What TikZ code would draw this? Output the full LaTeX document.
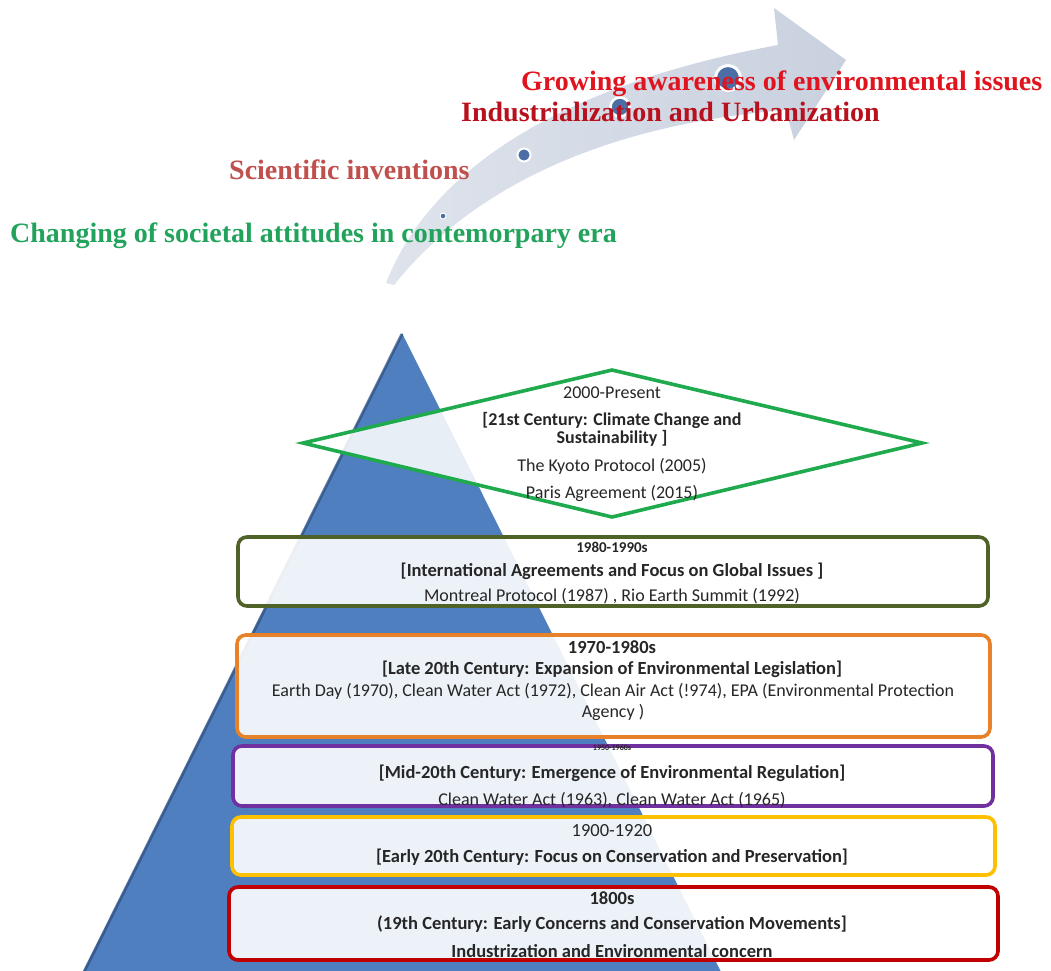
\documentclass[tikz,border=0pt]{standalone}
\usepackage{fontspec}
\newfontfamily\carlito{Carlito}
\newfontfamily\tnr{Liberation Serif}
\definecolor{triblue}{HTML}{4F7FBF}
\definecolor{trishadow}{HTML}{2E4E80}
\definecolor{arrowc}{HTML}{C9D1DF}
\definecolor{dotc}{HTML}{4A6EA5}
\definecolor{olivec}{HTML}{4F6228}
\definecolor{orangec}{HTML}{E8822A}
\definecolor{purplec}{HTML}{7030A0}
\definecolor{yellowc}{HTML}{FFC000}
\definecolor{redc}{HTML}{C00000}
\definecolor{greenc}{HTML}{1FAA4E}
\definecolor{t1}{HTML}{E0141E}
\definecolor{t2}{HTML}{B8101C}
\definecolor{t3}{HTML}{C0504D}
\definecolor{t4}{HTML}{22A35C}
\tikzset{
  boxc/.style={draw=#1, line width=3.6pt, rounded corners=9pt, fill=white, fill opacity=0.9},
  dia/.style={draw=greenc, line width=3.6pt, fill=white, fill opacity=0.87, line join=miter},
  tx/.style={font=\carlito\fontsize{18}{21}\selectfont, align=center, text=black!85, inner sep=0pt},
  bx/.style={font=\carlito\bfseries\fontsize{18.5}{20}\selectfont},
  head/.style={font=\tnr\bfseries\fontsize{28}{30}\selectfont, anchor=base west, inner sep=0pt},
  dotn/.style={circle, fill=dotc, draw=white, inner sep=0pt}
}
\begin{document}
\begin{tikzpicture}[x=1pt,y=-1pt]
\useasboundingbox (0,0) rectangle (1051,970);
% curved arrow
\path[left color=arrowc!60, right color=arrowc]
  (386,283) .. controls (430,170) and (560,85) .. (778,45)
  -- (774,8) -- (846,60) -- (794,140) -- (786,110)
  .. controls (600,125) and (470,190) .. (394,285) -- cycle;
\node[dotn, minimum size=6pt, line width=1pt] (d1) at (443,216) {};
\node[dotn, minimum size=13pt, line width=2pt] (d2) at (524,155) {};
\node[dotn, minimum size=19pt, line width=2.5pt] (d3) at (620,107) {};
\node[dotn, minimum size=25pt, line width=3pt] (d4) at (728,78) {};
% headline texts
\node[head, text=t1] (h1) at (521,90) {Growing awareness of environmental issues};
\node[head, text=t2] (h2) at (461,121) {Industrialization and Urbanization};
\node[head, text=t3] (h3) at (229,179) {Scientific inventions};
\node[head, text=t4] (h4) at (10,242) {Changing of societal attitudes in contemorpary era};
% pyramid
\fill[triblue] (402,333) -- (83,972) -- (721,972) -- cycle;
\draw[trishadow, line width=3pt, opacity=0.7] (402,334) -- (84,972);
% diamond
\coordinate (dl) at (303,443);
\coordinate (dt) at (612,370);
\coordinate (dr) at (922,443);
\coordinate (db) at (612,517);
\draw[dia] (dl) -- (dt) -- (dr) -- (db) -- cycle;
\node[tx] (p0a) at (612,393) {2000-Present};
\node[tx, font=\carlito\bfseries\fontsize{18}{18}\selectfont] (p0b) at (612,429) {[21st Century: Climate Change and\\Sustainability ]};
\node[tx] (p0c) at (612,466) {The Kyoto Protocol (2005)};
\node[tx] (p0d) at (612,493) {Paris Agreement (2015)};
% boxes
\node[boxc=olivec, minimum width=750pt, minimum height=69pt] (b1) at (613,571.5) {};
\node[boxc=orangec, minimum width=753pt, minimum height=102pt] (b2) at (613.5,686) {};
\node[boxc=purplec, minimum width=760pt, minimum height=60pt] (b3) at (613,776) {};
\node[boxc=yellowc, minimum width=763pt, minimum height=58pt] (b4) at (613.5,846) {};
\node[boxc=redc, minimum width=769pt, minimum height=73pt] (b5) at (613.5,923.5) {};
% box texts
\node[tx, bx, font=\carlito\bfseries\fontsize{15}{16}\selectfont] (b1a) at (612,547) {1980-1990s};
\node[tx, bx] (b1b) at (612,571) {[International Agreements and Focus on Global Issues ]};
\node[tx] (b1c) at (612,596) {Montreal Protocol (1987) , Rio Earth Summit (1992)};
\node[tx, bx] (b2a) at (612,647) {1970-1980s};
\node[tx, bx] (b2b) at (612,669) {[Late 20th Century: Expansion of Environmental Legislation]};
\node[tx] (b2c) at (613,702) {Earth Day (1970), Clean Water Act (1972), Clean Air Act (!974), EPA (Environmental Protection\\Agency )};
\node[tx, font=\carlito\bfseries\fontsize{8}{9}\selectfont] (b3a) at (612,748) {1950-1960s};
\node[tx, bx] (b3b) at (612,773) {[Mid-20th Century: Emergence of Environmental Regulation]};
\node[tx] (b3c) at (612,800) {Clean Water Act (1963), Clean Water Act (1965)};
\node[tx, font=\carlito\fontsize{18.5}{20}\selectfont] (b4a) at (612,831) {1900-1920};
\node[tx, bx] (b4b) at (612,857) {[Early 20th Century: Focus on Conservation and Preservation]};
\node[tx, bx] (b5a) at (612,898) {1800s};
\node[tx, bx] (b5b) at (612,924) {(19th Century: Early Concerns and Conservation Movements]};
\node[tx, bx] (b5c) at (612,951) {Industrization and Environmental concern};
\end{tikzpicture}
\end{document}
